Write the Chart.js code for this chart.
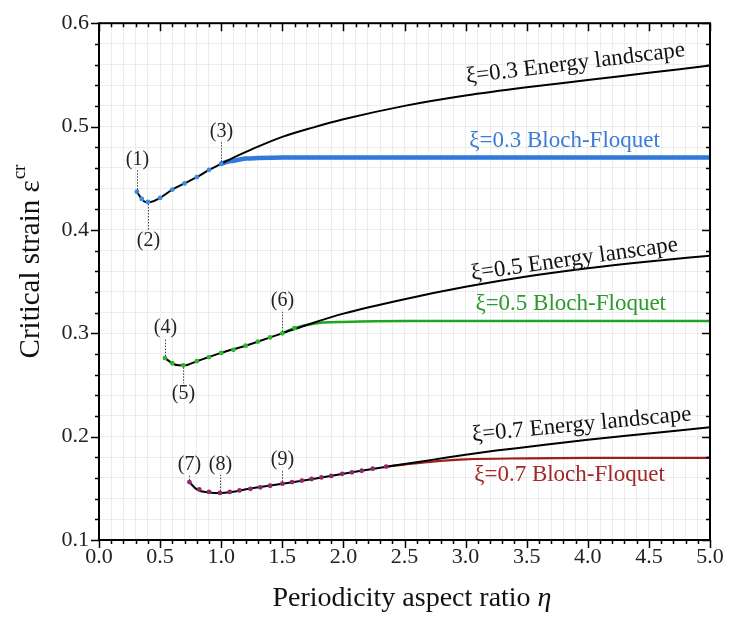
<html>
<head>
<script src="https://cdn.jsdelivr.net/npm/chart.js"></script>
<style>
  body { margin: 0; background: #fff; }
</style>
</head>
<body>
<canvas id="chart" width="729" height="617"></canvas>
<script>
// ---- data ----
// xi = 0.3
const e03Eta = [0.31, 0.35, 0.38, 0.42, 0.45, 0.5, 0.6, 0.7, 0.8, 0.9, 1.0, 1.1, 1.25, 1.5, 1.75, 2.0, 2.5, 3.0, 3.5, 4.0, 4.5, 5.0]
const e03Eps = [0.437, 0.430, 0.427, 0.427, 0.428, 0.431, 0.439, 0.445, 0.451, 0.458, 0.464, 0.470, 0.478, 0.490, 0.499, 0.507, 0.520, 0.530, 0.538, 0.545, 0.552, 0.559]
const bf03Eta = [1.0, 1.05, 1.1, 1.2, 1.3, 1.5, 2.0, 3.0, 4.0, 5.0]
const bf03Eps = [0.464, 0.466, 0.467, 0.469, 0.4695, 0.470, 0.470, 0.470, 0.470, 0.470]
const dots03Eta = [0.31, 0.35, 0.4, 0.5, 0.6, 0.7, 0.8, 0.9, 1.0]
const dots03Eps = [0.437, 0.430, 0.427, 0.431, 0.439, 0.445, 0.451, 0.458, 0.464]

// xi = 0.5
const e05Eta = [0.54, 0.6, 0.65, 0.7, 0.8, 0.9, 1.0, 1.2, 1.4, 1.5, 1.75, 2.0, 2.5, 3.0, 3.5, 4.0, 4.5, 5.0]
const e05Eps = [0.276, 0.271, 0.269, 0.269, 0.273, 0.277, 0.281, 0.288, 0.296, 0.300, 0.310, 0.319, 0.333, 0.345, 0.355, 0.363, 0.3695, 0.375]
const bf05Eta = [1.5, 1.6, 1.7, 1.8, 2.0, 2.5, 3.0, 4.0, 5.0]
const bf05Eps = [0.300, 0.305, 0.308, 0.310, 0.311, 0.312, 0.312, 0.312, 0.312]
const dots05Eta = [0.54, 0.6, 0.69, 0.8, 0.9, 1.0, 1.1, 1.2, 1.3, 1.4, 1.5, 1.6]
const dots05Eps = [0.276, 0.271, 0.269, 0.273, 0.277, 0.281, 0.284, 0.288, 0.292, 0.296, 0.300, 0.305]

// xi = 0.7
const e07Eta = [0.74, 0.8, 0.9, 1.0, 1.25, 1.5, 1.75, 2.0, 2.25, 2.5, 2.75, 3.0, 3.25, 3.5, 4.0, 4.5, 5.0]
const e07Eps = [0.156, 0.149, 0.146, 0.1455, 0.150, 0.1545, 0.159, 0.164, 0.169, 0.1735, 0.178, 0.1825, 0.1865, 0.190, 0.197, 0.203, 0.209]
const bf07Eta = [2.35, 2.5, 2.75, 3.0, 3.5, 4.0, 5.0]
const bf07Eps = [0.171, 0.173, 0.176, 0.178, 0.179, 0.1795, 0.1795]
const dots07Eta = [0.74, 0.82, 0.9, 0.99, 1.07, 1.15, 1.24, 1.32, 1.40, 1.5, 1.58, 1.66, 1.74, 1.82, 1.9, 1.99, 2.07, 2.15, 2.24, 2.35]
const dots07Eps = [0.156, 0.149, 0.1465, 0.1455, 0.1465, 0.148, 0.1495, 0.151, 0.1525, 0.1545, 0.156, 0.1575, 0.159, 0.1605, 0.162, 0.164, 0.1655, 0.167, 0.169, 0.171]

// numbered points
const markLabels = ['(1)', '(2)', '(3)', '(4)', '(5)', '(6)', '(7)', '(8)', '(9)']
const markEta = [0.31, 0.40, 1.0, 0.54, 0.69, 1.5, 0.74, 0.99, 1.5]
const markEps = [0.437, 0.427, 0.464, 0.276, 0.269, 0.300, 0.156, 0.1455, 0.1545]

// curve labels
const curveTexts = ['ξ=0.3 Energy landscape', 'ξ=0.3 Bloch-Floquet', 'ξ=0.5 Energy lanscape', 'ξ=0.5 Bloch-Floquet', 'ξ=0.7 Energy landscape', 'ξ=0.7 Bloch-Floquet']
const curveTextEta = [3.90, 3.81, 3.89, 3.86, 3.95, 3.85]
const curveTextEps = [0.561, 0.4865, 0.3715, 0.328, 0.2115, 0.1625]

// ---- styles ----
const FONT = '"Liberation Serif", "DejaVu Serif", serif'
const BLUE = '#2f78dc'
const GREEN = '#22a322'
const RED = '#9e1d1d'
const curveTextColor = ['#111', '#3a7bd5', '#111', '#2b9a2b', '#111', '#a02828']
const curveTextAngle = [-7, 0, -8, 0, -5.5, 0]
const markOffset = [-32, 39, -32, -30, 28, -33, -17, -28, -24]

function pts(xs, ys) {
    return xs.map((x, i) => ({ x: x, y: ys[i] }))
}

function lineSet(label, xs, ys, color, width, order) {
    return {
        label: label,
        data: pts(xs, ys),
        showLine: true,
        borderColor: color,
        backgroundColor: color,
        borderWidth: width,
        pointRadius: 0,
        cubicInterpolationMode: 'monotone',
        order: order,
    }
}

function dotSet(label, xs, ys, color) {
    return {
        label: label,
        data: pts(xs, ys),
        showLine: false,
        pointRadius: 2.4,
        pointBorderWidth: 0,
        backgroundColor: color,
        borderColor: color,
        order: 0,
    }
}

const isMult = (v, step) => Math.abs(v / step - Math.round(v / step)) < 1e-6

const decorPlugin = {
    id: 'decor',
    afterDraw(chart) {
        const ctx = chart.ctx
        const a = chart.chartArea
        const xs = chart.scales.x
        const ys = chart.scales.y
        ctx.save()

        // frame
        ctx.strokeStyle = '#000'
        ctx.lineWidth = 2
        ctx.strokeRect(a.left, a.top, a.right - a.left, a.bottom - a.top)

        // ticks: outward on bottom/left, inward on top/right
        ctx.lineWidth = 1.5
        ctx.beginPath()
        for (let i = 0; i <= 50; i++) {
            const px = Math.round(xs.getPixelForValue(i / 10)) + 0.5
            const len = i % 5 === 0 ? 8 : 4
            ctx.moveTo(px, a.bottom)
            ctx.lineTo(px, a.bottom + len)
            ctx.moveTo(px, a.top)
            ctx.lineTo(px, a.top + len)
        }
        for (let i = 0; i <= 25; i++) {
            const py = Math.round(ys.getPixelForValue(0.1 + i * 0.02)) + 0.5
            const len = i % 5 === 0 ? 8 : 4
            ctx.moveTo(a.left, py)
            ctx.lineTo(a.left - len, py)
            ctx.moveTo(a.right, py)
            ctx.lineTo(a.right - len, py)
        }
        ctx.stroke()

        // numbered points with dotted leaders
        ctx.font = '20px ' + FONT
        ctx.fillStyle = '#222'
        ctx.textAlign = 'center'
        ctx.textBaseline = 'middle'
        ctx.strokeStyle = '#444'
        ctx.lineWidth = 1
        ctx.setLineDash([1.5, 1.5])
        markLabels.forEach((t, i) => {
            const px = Math.round(xs.getPixelForValue(markEta[i])) + 0.5
            const py = ys.getPixelForValue(markEps[i])
            const off = markOffset[i]
            const s = Math.sign(off)
            ctx.beginPath()
            ctx.moveTo(px, py + s * 2)
            ctx.lineTo(px, py + off - s * 10)
            ctx.stroke()
            ctx.fillText(t, px, py + off)
        })
        ctx.setLineDash([])

        // curve labels
        ctx.font = '23px ' + FONT
        curveTexts.forEach((t, i) => {
            const px = xs.getPixelForValue(curveTextEta[i])
            const py = ys.getPixelForValue(curveTextEps[i])
            ctx.save()
            ctx.translate(px, py)
            ctx.rotate(curveTextAngle[i] * Math.PI / 180)
            ctx.fillStyle = curveTextColor[i]
            ctx.fillText(t, 0, 0)
            ctx.restore()
        })

        // y axis title with superscript
        ctx.save()
        ctx.translate(31, 262)
        ctx.rotate(-Math.PI / 2)
        ctx.fillStyle = '#111'
        ctx.textAlign = 'left'
        ctx.textBaseline = 'middle'
        ctx.font = '29px ' + FONT
        const main = 'Critical strain ε'
        const w1 = ctx.measureText(main).width
        ctx.font = '19px ' + FONT
        const w2 = ctx.measureText('cr').width
        const x0 = -(w1 + w2) / 2
        ctx.font = '29px ' + FONT
        ctx.fillText(main, x0, 0)
        ctx.font = '19px ' + FONT
        ctx.fillText('cr', x0 + w1 + 1, -11)
        ctx.restore()

        // x axis title
        ctx.fillStyle = '#111'
        ctx.textAlign = 'left'
        ctx.textBaseline = 'middle'
        ctx.font = '28px ' + FONT
        const xt = 'Periodicity aspect ratio '
        const wa = ctx.measureText(xt).width
        ctx.font = 'italic 28px ' + FONT
        const wb = ctx.measureText('η').width
        const cx = 412 - (wa + wb) / 2
        ctx.font = '28px ' + FONT
        ctx.fillText(xt, cx, 599)
        ctx.font = 'italic 28px ' + FONT
        ctx.fillText('η', cx + wa, 599)

        ctx.restore()
    },
}

new Chart(document.getElementById('chart'), {
    type: 'scatter',
    data: {
        datasets: [
            dotSet('ξ=0.3 BF points', dots03Eta, dots03Eps, '#3a8ae8'),
            dotSet('ξ=0.5 BF points', dots05Eta, dots05Eps, '#2db52d'),
            dotSet('ξ=0.7 BF points', dots07Eta, dots07Eps, '#8a2a6a'),
            lineSet('ξ=0.3 Energy landscape', e03Eta, e03Eps, '#000', 2, 1),
            lineSet('ξ=0.5 Energy landscape', e05Eta, e05Eps, '#000', 2, 1),
            lineSet('ξ=0.7 Energy landscape', e07Eta, e07Eps, '#000', 2, 1),
            lineSet('ξ=0.3 Bloch-Floquet', bf03Eta, bf03Eps, BLUE, 4.5, 2),
            lineSet('ξ=0.5 Bloch-Floquet', bf05Eta, bf05Eps, GREEN, 2.5, 2),
            lineSet('ξ=0.7 Bloch-Floquet', bf07Eta, bf07Eps, RED, 2.2, 2),
        ],
    },
    options: {
        responsive: false,
        animation: false,
        layout: { padding: { left: 0, right: 19, top: 20, bottom: 0 } },
        plugins: {
            legend: { display: false },
            tooltip: { enabled: false },
        },
        scales: {
            x: {
                type: 'linear',
                min: 0,
                max: 5,
                afterFit: (s) => { s.height = 77 },
                border: { display: false },
                grid: { color: '#ececec', lineWidth: 1, drawTicks: false },
                ticks: {
                    stepSize: 0.1,
                    autoSkip: false,
                    maxRotation: 0,
                    padding: 4,
                    color: '#222',
                    font: { family: FONT, size: 22 },
                    callback: (v) => (isMult(v, 0.5) ? v.toFixed(1) : ''),
                },
            },
            y: {
                type: 'linear',
                min: 0.1,
                max: 0.6,
                afterFit: (s) => { s.width = 99 },
                border: { display: false },
                grid: { color: '#ececec', lineWidth: 1, drawTicks: false },
                ticks: {
                    stepSize: 0.02,
                    autoSkip: false,
                    padding: 10,
                    color: '#222',
                    font: { family: FONT, size: 22 },
                    callback: (v) => (isMult(v, 0.1) ? v.toFixed(1) : ''),
                },
            },
        },
    },
    plugins: [decorPlugin],
})
</script>
</body>
</html>
